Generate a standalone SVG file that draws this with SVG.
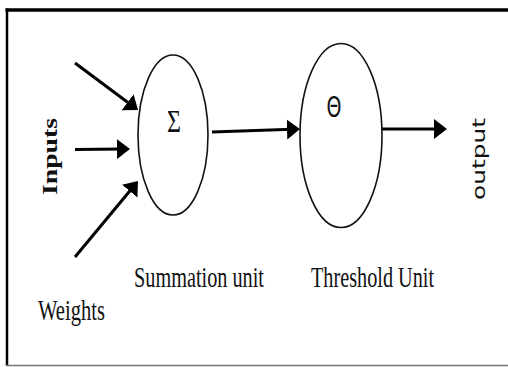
<svg xmlns="http://www.w3.org/2000/svg" width="508" height="367" viewBox="0 0 508 367">
  <style>
    .unit { fill: #fff; stroke: #111; stroke-width: 1.6; }
    .wire { stroke: #000; stroke-width: 3; fill: none; marker-end: url(#head); }
    .serif { font-family: "Liberation Serif", "Times New Roman", serif; font-size: 20px; fill: #111; }
    .sans { font-family: "DejaVu Sans", "Liberation Sans", sans-serif; fill: #111; }
  </style>
  <defs>
    <marker id="head" markerUnits="userSpaceOnUse" markerWidth="14" markerHeight="21" refX="5" refY="10" orient="auto" viewBox="0 0 14 21">
      <path d="M0,0 L13,10 L0,20 z" fill="#000"/>
    </marker>
  </defs>

  <rect width="508" height="367" fill="#fff"/>

  <!-- frame: heavy top and left rule, thin grey bottom rule -->
  <g id="frame">
    <line x1="5.5" y1="10" x2="508" y2="10" stroke="#000" stroke-width="3.5"/>
    <line x1="7" y1="8.5" x2="7" y2="366" stroke="#000" stroke-width="2.5"/>
    <line x1="6" y1="365.5" x2="508" y2="365.5" stroke="#777" stroke-width="1.5"/>
  </g>

  <!-- connectors -->
  <g id="connectors">
    <line class="wire" x1="75" y1="63" x2="131.6" y2="105.2"/>
    <line class="wire" x1="75" y1="149.5" x2="122" y2="149"/>
    <line class="wire" x1="75" y1="257" x2="132.9" y2="187.2"/>
    <line class="wire" x1="212" y1="132" x2="292" y2="129.3"/>
    <line class="wire" x1="382" y1="129" x2="439" y2="129"/>
  </g>

  <g id="summation">
    <ellipse class="unit" cx="173" cy="135" rx="35" ry="80"/>
    <text class="serif" style="font-size:24px" transform="translate(174,132) scale(1,1.3)" text-anchor="middle">Σ</text>
    <text class="serif" transform="translate(134,287) scale(1,1.45)" textLength="130" lengthAdjust="spacingAndGlyphs">Summation unit</text>
  </g>

  <g id="threshold">
    <ellipse class="unit" cx="341" cy="135.5" rx="41" ry="92"/>
    <text class="sans" style="font-size:19px" transform="translate(334,117) scale(1,1.45)" text-anchor="middle">Θ</text>
    <text class="serif" transform="translate(311,287) scale(1,1.45)" textLength="123" lengthAdjust="spacingAndGlyphs">Threshold Unit</text>
  </g>

  <g id="inputs">
    <text class="serif" font-weight="bold" transform="translate(57,195) rotate(-90)" textLength="77" lengthAdjust="spacingAndGlyphs">Inputs</text>
  </g>

  <g id="weights">
    <text class="serif" transform="translate(38,320) scale(1,1.45)" textLength="67" lengthAdjust="spacingAndGlyphs">Weights</text>
  </g>

  <g id="output">
    <text class="sans" style="font-size:17px" transform="translate(485,200) rotate(-90)" textLength="82" lengthAdjust="spacingAndGlyphs">output</text>
  </g>
</svg>
